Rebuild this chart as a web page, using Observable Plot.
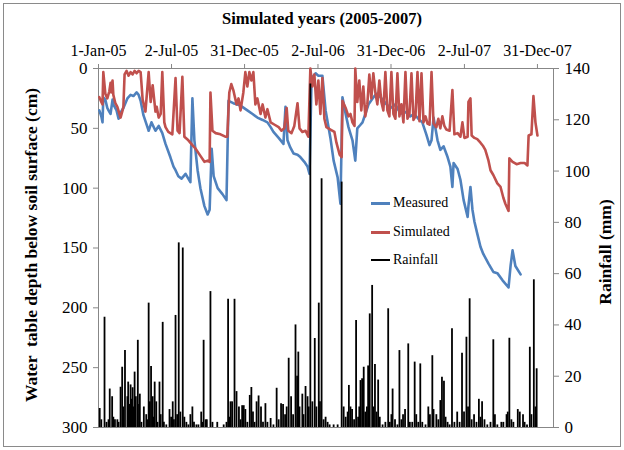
<!DOCTYPE html>
<html>
<head>
<meta charset="utf-8">
<script src="https://cdn.jsdelivr.net/npm/d3@7"></script>
<script src="https://cdn.jsdelivr.net/npm/@observablehq/plot@0.6"></script>
<style>
  body { margin: 0; background: #fff; }
  #chart { position: relative; width: 624px; height: 450px; font-family: "Liberation Serif", "Times New Roman", serif; color: #000; }
  #chart svg { position: absolute; left: 0; top: 0; }
  .box { position: absolute; left: 3px; top: 3px; width: 616px; height: 442px; border: 1px solid #8a8a8a; }
  .title { position: absolute; top: 9px; left: 172px; width: 300px; text-align: center; font-weight: bold; font-size: 16.5px; }
  .ytitle { position: absolute; white-space: pre; font-weight: bold; font-size: 17.5px; transform: translate(-50%, -50%) rotate(-90deg); }
  .legend { position: absolute; left: 371px; font-size: 14px; display: flex; align-items: center; height: 18px; }
  .legend span.sw { display: inline-block; width: 19px; margin-right: 3px; }
</style>
</head>
<body>
<div id="chart">
  <div class="box"></div>
</div>
<script>
// Water table depth (cm below surface) and daily rainfall (mm), 2005-2007.
// Each entry is [day of simulation counted from 1 Jan 2005, value].
const measured = [
  [2,35],[7,40],[10,45],[12,24],[17,26],[22,33],[25,35],[30,38],[35,26],[37,30],
  [45,35],[50,42],[55,37],[62,33],[67,29],[72,25],[80,22],[87,23],[95,20],[100,22],
  [105,27],[112,39],[122,49],[125,52],[132,45],[142,52],[150,48],[159,54],[167,63],
  [179,74],[187,82],[192,85],[199,90],[207,92],[217,88],[229,95],[234,25],[239,60],
  [247,85],[254,100],[264,115],[272,122],[277,118],[282,67],[287,90],[297,100],
  [309,105],[319,110],[324,27],[336,29],[354,31],[371,35],[384,38],[396,41],[409,43],
  [421,45],[429,49],[436,53],[449,58],[461,63],[466,32],[471,60],[478,66],[486,71],
  [496,72],[503,74],[513,78],[521,82],[526,88],[531,8],[541,4],[548,6],[558,6],
  [566,35],[578,58],[586,77],[596,91],[603,113],[608,24],[616,38],[623,49],[633,60],
  [640,77],[645,50],[653,47],[658,45],[665,38],[673,30],[683,25],[693,21],[703,24],
  [708,26],[718,30],[728,33],[740,30],[748,35],[758,38],[768,36],[777,40],[787,38],
  [797,42],[807,45],[817,55],[825,64],[830,60],[835,41],[845,60],[852,68],[860,65],
  [870,74],[877,82],[882,99],[885,79],[895,84],[902,93],[910,110],[920,124],[922,115],
  [927,99],[932,118],[937,128],[944,138],[952,149],[959,155],[972,163],[984,170],
  [994,171],[1007,177],[1022,183],[1027,165],[1032,152],[1039,165],[1052,172]
];

const simulated = [
  [2,24],[7,28],[10,30],[12,3],[17,21],[22,25],[27,19],[30,12],[32,20],[35,10],
  [37,22],[42,29],[47,32],[55,41],[60,35],[62,32],[65,5],[70,2],[75,6],[80,3],
  [85,5],[90,2],[95,4],[100,2],[105,3],[110,26],[117,36],[125,3],[130,28],[135,14],
  [142,36],[145,32],[150,41],[155,38],[159,3],[164,45],[167,49],[174,53],[184,55],
  [192,8],[197,52],[202,54],[209,7],[214,57],[224,60],[234,64],[242,67],[254,73],
  [264,78],[272,77],[277,78],[279,20],[284,52],[292,54],[304,55],[316,57],[321,57],
  [326,20],[331,13],[336,18],[344,30],[349,25],[354,35],[361,20],[366,3],[371,15],
  [376,3],[381,10],[386,3],[391,30],[396,25],[404,38],[409,30],[416,41],[421,34],
  [429,45],[439,47],[449,49],[456,52],[463,50],[469,33],[473,52],[481,54],[488,48],
  [496,29],[501,50],[508,53],[516,52],[523,57],[528,0],[533,15],[538,5],[543,30],
  [548,10],[553,38],[558,8],[563,42],[568,49],[578,51],[588,53],[593,62],[601,72],
  [606,74],[608,27],[616,33],[623,40],[628,38],[633,45],[638,48],[640,0],[645,28],
  [650,10],[655,35],[660,15],[665,40],[670,30],[675,5],[680,25],[685,4],[690,20],
  [695,30],[700,10],[705,28],[710,35],[715,3],[720,35],[725,40],[730,3],[735,38],
  [740,42],[745,4],[750,40],[755,30],[760,45],[765,3],[770,42],[775,38],[780,4],
  [785,43],[790,40],[795,3],[800,44],[805,4],[810,45],[815,40],[820,46],[825,47],
  [830,3],[835,46],[842,49],[847,42],[852,50],[857,40],[862,48],[867,51],[875,52],
  [882,18],[887,55],[895,54],[902,57],[907,45],[912,58],[920,57],[922,28],[927,25],
  [930,56],[937,58],[944,59],[952,62],[959,65],[964,68],[972,77],[977,85],[984,89],
  [994,96],[1002,99],[1009,108],[1014,113],[1022,119],[1024,75],[1032,78],[1042,80],
  [1052,79],[1062,79],[1069,81],[1072,56],[1079,55],[1084,23],[1089,45],[1094,56]
];

const rainfall = [
  [3,7.4],[7,3],[15,43],[20,2],[25,3],[28,15],[34,12],[37,4],[41,3],[47,3],[50,2],
  [55,15.7],[59,23.5],[62,8],[66,30],[72,12],[74,17.7],[77,9],[80,16.6],[83,11],
  [85,15.5],[88,8],[90,21.6],[93,12],[98,34],[101,9],[103,13],[107,2],[113,8],[119,5],
  [122,3],[125,48.5],[128,10],[131,23.8],[135,12],[137,4],[140,17.7],[144,10],[147,2],
  [152,17.7],[155,5],[160,41],[163,2],[169,1],[177,7],[181,4],[185,10],[188,3],
  [192,43.7],[196,5],[200,72],[204,6],[210,70],[214,4],[219,2],[224,1],[229,5],[234,8],
  [238,2],[244,1],[249,1],[256,6],[259,2],[262,34],[267,3],[270,3],[279,53],[284,2],
  [296,2],[312,1],[319,2],[323,50],[326,4],[329,10],[333,10],[339,50],[344,14],[350,8],
  [354,3],[358,8.5],[362,8.5],[366,7],[371,2],[377,12.5],[381,15.6],[385,6],[389,2],
  [394,10],[399,12.3],[405,8],[410,2],[416,9.3],[421,2],[429,3.5],[436,1],[444,15.3],
  [449,3],[455,9.3],[460,9],[465,5],[469,8],[474,27],[480,12],[485,5],[491,40],[495,20],
  [498,29.4],[501,8],[508,13],[511,5],[516,16],[521,12],[524,8],[528,134],[533,10],
  [539,34.7],[543,8],[549,48.5],[552,10],[556,97],[561,3],[566,4],[571,2],[576,1],
  [586,1],[596,1],[606,95.7],[611,8],[616,4],[621,6],[624,16.4],[628,8],[632,7],[637,3],
  [642,41.7],[647,4],[650,8],[653,18.3],[657,19],[661,23.5],[665,6],[669,8],[672,24],
  [676,44.3],[682,55.4],[685,8],[689,24.6],[693,6],[697,18.5],[701,4],[708,1],[715,2],
  [722,46.3],[726,2],[730,5],[733,15],[739,3],[745,1],[750,30],[755,3],[759,5],[764,7],
  [772,32.6],[776,2],[782,2],[788,25.5],[792,5],[797,2],[802,24.8],[807,2],[815,1],
  [822,8],[826,5],[832,28],[835,7],[842,5],[847,3],[852,10.5],[856,19.6],[861,18],
  [865,4],[870,2],[875,1],[881,38.5],[887,2],[894,6],[900,2],[906,29],[911,6],[917,35.2],
  [921,8],[925,50.2],[930,3],[936,5],[942,2],[948,11],[952,4],[956,10],[962,3],[969,1],
  [977,2],[984,34.2],[988,5],[994,1],[1004,2],[1009,2],[1017,5],[1020,6],[1024,34.8],
  [1029,3],[1034,2],[1045,7],[1050,6],[1058,5],[1062,2],[1068,1],[1075,31.3],[1079,5],
  [1085,57.6],[1089,8],[1092,22.9]
];

const dateTicks = ["2005-01-01","2005-07-02","2005-12-31","2006-07-02","2006-12-31","2007-07-02","2007-12-31"];
const depthTicks = [0, 50, 100, 150, 200, 250, 300];
const rainTicks = [0, 20, 40, 60, 80, 100, 120, 140];

const start = new Date(Date.UTC(2005, 0, 1));
const day = d => d3.utcDay.offset(start, d);
const xDomain = [start, day(1134)];
const axisGrey = "#878787";
const font = "'Liberation Serif', 'Times New Roman', serif";

const frame = {
  width: 624, height: 450,
  marginLeft: 98, marginRight: 71, marginTop: 68, marginBottom: 23,
  style: { fontFamily: font, background: "transparent", overflow: "visible", color: "#000" }
};

// Water table depth, 0 at the top, with the date axis along the top edge
const depthChart = Plot.plot({
  ...frame,
  x: { type: "utc", domain: xDomain },
  y: { domain: [0, 300], reverse: true },
  marks: [
    Plot.frame({ stroke: axisGrey }),
    Plot.axisX({
      anchor: "top", ticks: dateTicks.map(s => new Date(s)),
      tickFormat: d3.utcFormat("%-d-%b-%y"), tickSize: 5, tickPadding: 8,
      fontSize: 16, stroke: axisGrey, fill: "#000", label: null
    }),
    Plot.axisY({
      anchor: "left", ticks: depthTicks, tickSize: 5, tickPadding: 6,
      fontSize: 17, stroke: axisGrey, fill: "#000", label: null
    }),
    Plot.line(measured, { x: d => day(d[0]), y: d => d[1], stroke: "#4F81BD", strokeWidth: 2.6, strokeLinejoin: "round" }),
    Plot.line(simulated, { x: d => day(d[0]), y: d => d[1], stroke: "#C0504D", strokeWidth: 2.6, strokeLinejoin: "round" })
  ]
});

// Daily rainfall bars rising from the bottom, read on the right-hand axis
const rainChart = Plot.plot({
  ...frame,
  x: { type: "utc", domain: xDomain, axis: null },
  y: { domain: [0, 140] },
  marks: [
    Plot.axisY({
      anchor: "right", ticks: rainTicks, tickSize: 5, tickPadding: 6,
      fontSize: 17, stroke: axisGrey, fill: "#000", label: null
    }),
    Plot.ruleX(rainfall, { x: d => day(d[0]), y1: 0, y2: d => d[1], stroke: "#000", strokeWidth: 1.8 })
  ]
});

const chart = document.getElementById("chart");
chart.append(depthChart, rainChart);

function addText(cls, text, css) {
  const el = document.createElement("div");
  el.className = cls;
  el.textContent = text;
  Object.assign(el.style, css);
  chart.append(el);
  return el;
}

addText("title", "Simulated years (2005-2007)", {});
addText("ytitle", "Water  table depth below soil surface (cm)", { left: "31px", top: "245px" });
addText("ytitle", "Rainfall (mm)", { left: "605px", top: "252px" });

const legendItems = [
  { name: "Measured", color: "#4F81BD", width: 3, top: 194 },
  { name: "Simulated", color: "#C0504D", width: 3, top: 223 },
  { name: "Rainfall", color: "#000", width: 2, top: 251 }
];
for (const item of legendItems) {
  const row = document.createElement("div");
  row.className = "legend";
  row.style.top = item.top + "px";
  const sw = document.createElement("span");
  sw.className = "sw";
  sw.style.borderTop = `${item.width}px solid ${item.color}`;
  row.append(sw, document.createTextNode(item.name));
  chart.append(row);
}
</script>
</body>
</html>
